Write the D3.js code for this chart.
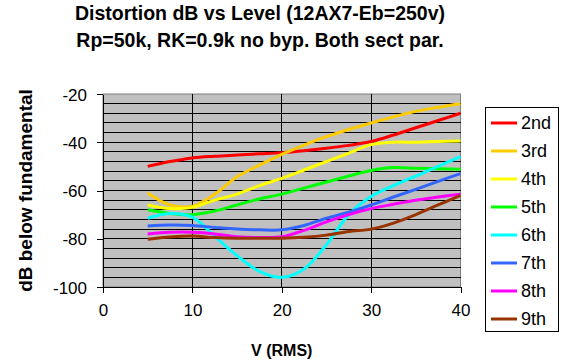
<!DOCTYPE html>
<html>
<head>
<meta charset="utf-8">
<script src="https://cdn.jsdelivr.net/npm/d3@7"></script>
<style>
  body { margin: 0; background: #fff; }
  text { font-family: "Liberation Sans", Arial, sans-serif; }
</style>
</head>
<body>
<svg id="chart" width="564" height="360"></svg>
<script>
// harmonic distortion readings, x = V (RMS)
var volts   = [5, 7.5, 10, 12.5, 15, 17.5, 20, 22.5, 25, 27.5, 30, 32.5, 35, 37.5, 40];
var second  = [-50, -48, -46.5, -45.8, -45.3, -44.8, -44.3, -43.5, -42.5, -41.3, -39.7, -37, -34, -31, -28];
var third   = [-61, -66, -66.5, -61.5, -54.3, -49.5, -45, -41.2, -37.7, -34.7, -32, -29.5, -27.2, -25.5, -24];
var fourth  = [-66, -67.5, -67, -64, -61.5, -58, -55, -51.5, -48, -44.5, -41, -40, -40, -39.7, -39.5];
var fifth   = [-68, -69.5, -70, -68.5, -66, -63.5, -61.5, -59, -56.5, -54, -51.7, -50.5, -50.8, -51, -51.2];
var sixth   = [-71.5, -69.5, -71, -79, -87, -93.5, -96, -92.5, -82.5, -70, -62.5, -58, -54, -50, -46];
var seventh = [-74.7, -74.3, -74.5, -75.3, -76, -76.3, -76.3, -74.5, -71.5, -69, -66, -62.7, -59.5, -56.2, -53];
var eighth  = [-78, -77.3, -77.3, -78, -79.2, -79.5, -79.2, -76.5, -73, -70, -67.5, -65.7, -64, -62.7, -61.5];
var ninth   = [-80.2, -79.3, -78.9, -79.5, -79.8, -79.8, -79.8, -79.4, -78.5, -77, -76, -73.5, -70, -66, -62];

var seriesNames = ["2nd", "3rd", "4th", "5th", "6th", "7th", "8th", "9th"];
var seriesData  = [second, third, fourth, fifth, sixth, seventh, eighth, ninth];
var colors = ["#ff0000", "#ffcc00", "#ffff00", "#00ff00", "#00ffff", "#3366ff", "#ff00ff", "#993300"];

var xTicks = [0, 10, 20, 30, 40];
var yTicks = [-20, -40, -60, -80, -100];
var titleLines = ["Distortion dB vs Level (12AX7-Eb=250v)", "Rp=50k, RK=0.9k no byp. Both sect par."];

var svg = d3.select("#chart");

var plotL = 103, plotR = 460.5, plotT = 94, plotB = 287;

var x = d3.scaleLinear().domain([0, 40]).range([plotL, plotR]);
var y = d3.scaleLinear().domain([-100, -20]).range([plotB, plotT]);

// plot background
svg.append("rect")
    .attr("x", plotL).attr("y", plotT)
    .attr("width", plotR - plotL).attr("height", plotB - plotT)
    .attr("fill", "#c0c0c0")
    .attr("stroke", "#808080")
    .attr("stroke-width", 1);

// horizontal gridlines every 4 dB
var grid = svg.append("g").attr("shape-rendering", "crispEdges");
grid.selectAll("line.h")
    .data(d3.range(-96, -20, 4))
  .enter().append("line")
    .attr("class", "h")
    .attr("x1", plotL).attr("x2", plotR)
    .attr("y1", d => y(d)).attr("y2", d => y(d))
    .attr("stroke", "#000");

grid.selectAll("line.v")
    .data([10, 20, 30])
  .enter().append("line")
    .attr("class", "v")
    .attr("y1", plotT).attr("y2", plotB)
    .attr("x1", d => x(d)).attr("x2", d => x(d))
    .attr("stroke", "#000");

// axes
var xAxis = svg.append("g")
    .attr("transform", "translate(0," + plotB + ")")
    .attr("shape-rendering", "crispEdges")
    .call(d3.axisBottom(x).tickValues(xTicks).tickSize(6).tickSizeOuter(0).tickPadding(10));
var yAxis = svg.append("g")
    .attr("transform", "translate(" + plotL + ",0)")
    .attr("shape-rendering", "crispEdges")
    .call(d3.axisLeft(y).tickValues(yTicks).tickSize(6).tickSizeOuter(0).tickPadding(10)
      .tickFormat(d => d));

[xAxis, yAxis].forEach(function(a) {
  a.select(".domain").attr("stroke", "#000");
  a.selectAll(".tick line").attr("stroke", "#000");
  a.selectAll(".tick text")
    .attr("fill", "#000")
    .style("font-size", "17px")
    .style("font-family", "'Liberation Sans', Arial, sans-serif");
});
yAxis.selectAll(".tick text").attr("dy", "0.36em");
xAxis.selectAll(".tick text").attr("dy", "0.75em");

// series
var line = d3.line()
    .x((d, i) => x(volts[i]))
    .y(d => y(d))
    .curve(d3.curveCatmullRom.alpha(0.5));

svg.append("g")
    .selectAll("path")
    .data(seriesData)
  .enter().append("path")
    .attr("d", line)
    .attr("fill", "none")
    .attr("stroke", (d, i) => colors[i])
    .attr("stroke-width", 3);

// titles
svg.append("text")
    .attr("x", 260).attr("y", 20)
    .attr("text-anchor", "middle")
    .style("font-weight", "bold").style("font-size", "19.5px")
    .selectAll("tspan")
    .data(titleLines)
  .enter().append("tspan")
    .attr("x", 260)
    .attr("dy", (d, i) => i ? 26.5 : 0)
    .text(d => d);

svg.append("text")
    .attr("transform", "translate(32," + ((plotT + plotB) / 2) + ") rotate(-90)")
    .attr("text-anchor", "middle")
    .style("font-weight", "bold").style("font-size", "19px")
    .text("dB below fundamental");

svg.append("text")
    .attr("x", (plotL + plotR) / 2).attr("y", 356)
    .attr("text-anchor", "middle")
    .style("font-weight", "bold").style("font-size", "16px")
    .text("V (RMS)");

// legend
var legend = svg.append("g").attr("transform", "translate(485,107)");
legend.append("rect")
    .attr("width", 73).attr("height", 224)
    .attr("fill", "#fff").attr("stroke", "#000")
    .attr("shape-rendering", "crispEdges");
var item = legend.selectAll("g.item")
    .data(seriesNames)
  .enter().append("g")
    .attr("class", "item")
    .attr("transform", (d, i) => "translate(0," + (16 + i * 28) + ")");
item.append("line")
    .attr("x1", 6).attr("x2", 32)
    .attr("stroke", (d, i) => colors[i])
    .attr("stroke-width", 3);
item.append("text")
    .attr("x", 36).attr("dy", "0.36em")
    .style("font-size", "18px")
    .text(d => d);
</script>
</body>
</html>
